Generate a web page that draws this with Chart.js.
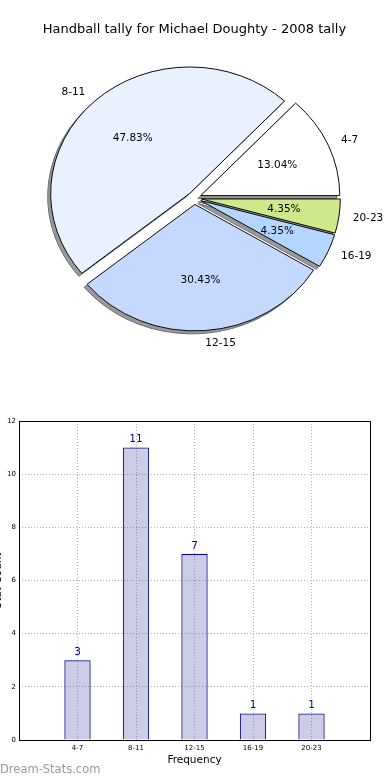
<!DOCTYPE html>
<html>
<head>
<meta charset="utf-8">
<title>Handball tally</title>
<script src="https://cdn.jsdelivr.net/npm/chart.js@4.4.0/dist/chart.umd.min.js"></script>
<style>
html, body { margin: 0; padding: 0; background: #fff; }
#page { position: relative; width: 390px; height: 780px; overflow: hidden; }
#pieBox { position: absolute; left: 0; top: 0; width: 390px; height: 400px; }
#barBox { position: absolute; left: 0; top: 400px; width: 390px; height: 380px; }
</style>
</head>
<body>
<div id="page">
    <div id="pieBox"><canvas id="pieChart"></canvas></div>
    <div id="barBox"><canvas id="barChart"></canvas></div>
</div>
<script>
/*
==================================
    Data
==================================
*/
var chartTitle = 'Handball tally for Michael Doughty - 2008 tally';
var categories = ['4-7', '8-11', '12-15', '16-19', '20-23'];
var counts = [3, 11, 7, 1, 1];
var yTicks = [0, 2, 4, 6, 8, 10, 12];
var xTitle = 'Frequency';
var yTitle = 'Stat Count';
var watermark = 'Dream-Stats.com';

var sliceColors = ['#ffffff', '#eaf1fe', '#c5d9fe', '#b4d6fe', '#cde98a'];

Chart.defaults.font.family = "'DejaVu Sans', sans-serif";
Chart.defaults.color = '#000';

var total = counts.reduce(function(a, b){ return a + b; }, 0);
var pieRadius = 139;
var squashY = 126.5 / 139;      // the pie is drawn as an ellipse
var explode = 0.05 * pieRadius;

function squash(ctx, cx, cy){
    ctx.translate(cx, cy);
    ctx.scale(1, -squashY);     // flip so slices run counter-clockwise
    ctx.translate(-cx, -cy);
}
function midAngle(arc){
    return (arc.startAngle + arc.endAngle) / 2;
}
/*
==================================
    Pie Chart
==================================
*/
var piePlugin = {
    id: 'mplPie',
    afterUpdate: function(chart){
        chart.getDatasetMeta(0).data.forEach(function(arc){
            if (arc._exploded) return;
            var draw = arc.draw;
            arc.draw = function(ctx){
                var m = midAngle(this);
                ctx.save();
                ctx.translate(Math.cos(m) * explode, Math.sin(m) * explode);
                draw.call(this, ctx);
                ctx.restore();
            };
            arc._exploded = true;
        });
    },
    beforeDatasetsDraw: function(chart){
        var ctx = chart.ctx;
        var arcs = chart.getDatasetMeta(0).data;
        // shadows
        ctx.save();
        ctx.translate(-3, 3);
        squash(ctx, arcs[0].x, arcs[0].y);
        ctx.fillStyle = '#9a9a9a';
        ctx.strokeStyle = '#6a6a6a';
        ctx.lineWidth = 1;
        arcs.forEach(function(arc){
            var m = midAngle(arc);
            var cx = arc.x + Math.cos(m) * explode;
            var cy = arc.y + Math.sin(m) * explode;
            ctx.beginPath();
            ctx.moveTo(cx, cy);
            ctx.arc(cx, cy, arc.outerRadius, arc.startAngle, arc.endAngle);
            ctx.closePath();
            ctx.fill();
            ctx.stroke();
        });
        ctx.restore();
        ctx.save();
        squash(ctx, arcs[0].x, arcs[0].y);
    },
    afterDatasetsDraw: function(chart){
        var ctx = chart.ctx;
        ctx.restore();
        var arcs = chart.getDatasetMeta(0).data;
        ctx.save();
        ctx.font = "10.5px 'DejaVu Sans'";
        ctx.fillStyle = '#000';
        ctx.textBaseline = 'middle';
        arcs.forEach(function(arc, i){
            var m = midAngle(arc);
            var c = Math.cos(m), s = Math.sin(m);
            var R = arc.outerRadius;
            ctx.textAlign = c > 0 ? 'left' : 'right';
            ctx.fillText(categories[i], arc.x + (explode + 1.1 * R) * c, arc.y - squashY * (explode + 1.1 * R) * s);
            ctx.textAlign = 'center';
            ctx.fillText((counts[i] / total * 100).toFixed(2) + '%', arc.x + (explode + 0.6 * R) * c, arc.y - squashY * (explode + 0.6 * R) * s);
        });
        ctx.restore();
    }
};

var pieChart = new Chart(document.getElementById('pieChart'), {
    type: 'pie',
    data: {
        labels: categories,
        datasets: [{
            data: counts,
            backgroundColor: sliceColors,
            borderColor: '#000',
            borderWidth: 1,
            borderAlign: 'center',
            borderJoinStyle: 'miter',
            clip: false
        }]
    },
    options: {
        responsive: true,
        maintainAspectRatio: false,
        animation: false,
        events: [],
        radius: pieRadius,
        rotation: 90,
        layout: { padding: { top: 0, left: 0, right: 1.2, bottom: 51.4 } },
        plugins: {
            legend: { display: false },
            tooltip: { enabled: false },
            title: {
                display: true,
                text: chartTitle,
                color: '#000',
                font: { size: 13, weight: 'normal' },
                padding: { top: 22, bottom: 10 }
            }
        }
    },
    plugins: [piePlugin]
});
/*
==================================
    Bar Chart
==================================
*/
var barPlugin = {
    id: 'barFrame',
    afterDatasetsDraw: function(chart){
        var ctx = chart.ctx, a = chart.chartArea;
        var meta = chart.getDatasetMeta(0);
        ctx.save();
        ctx.font = "10.5px 'DejaVu Sans'";
        ctx.fillStyle = '#0000b0';
        ctx.textAlign = 'center';
        ctx.textBaseline = 'middle';
        meta.data.forEach(function(bar, i){
            ctx.fillText(String(counts[i]), bar.x, bar.y - 8);
        });
        ctx.strokeStyle = '#000';
        ctx.lineWidth = 1;
        var l = Math.floor(a.left) + 0.5, t = Math.floor(a.top) + 0.5;
        var r = Math.floor(a.right) + 0.5, b = Math.floor(a.bottom) + 0.5;
        ctx.strokeRect(l, t, r - l, b - t);
        ctx.restore();
    },
    afterDraw: function(chart){
        var ctx = chart.ctx, a = chart.chartArea;
        ctx.save();
        ctx.font = "10.5px 'DejaVu Sans'";
        ctx.fillStyle = '#000';
        ctx.textAlign = 'center';
        ctx.textBaseline = 'middle';
        ctx.translate(-2, (a.top + a.bottom) / 2);
        ctx.rotate(-Math.PI / 2);
        ctx.fillText(yTitle, 0, 0);
        ctx.restore();
        ctx.save();
        ctx.font = "11.5px 'DejaVu Sans'";
        ctx.fillStyle = '#999';
        ctx.textAlign = 'left';
        ctx.textBaseline = 'middle';
        ctx.fillText(watermark, 0, chart.height - 10);
        ctx.restore();
    }
};

var barChart = new Chart(document.getElementById('barChart'), {
    type: 'bar',
    data: {
        datasets: [{
            data: categories.map(function(c, i){ return { x: i + 1, y: counts[i] }; }),
            backgroundColor: 'rgba(0, 0, 128, 0.2)',
            borderColor: '#000080',
            borderWidth: 1,
            categoryPercentage: 1,
            barPercentage: 0.45
        }]
    },
    options: {
        responsive: true,
        maintainAspectRatio: false,
        animation: false,
        events: [],
        layout: { padding: { top: 21, right: 20, left: 0, bottom: 0 } },
        plugins: {
            legend: { display: false },
            tooltip: { enabled: false }
        },
        scales: {
            x: {
                type: 'linear',
                min: 0,
                max: categories.length + 1,
                offset: false,
                afterBuildTicks: function(scale){
                    scale.ticks = categories.map(function(c, i){ return { value: i + 1 }; });
                },
                afterFit: function(scale){ scale.height = 40; },
                ticks: {
                    font: { size: 7 },
                    color: '#000',
                    padding: 4,
                    autoSkip: false,
                    maxRotation: 0,
                    callback: function(v){ return categories[v - 1]; }
                },
                grid: { color: '#b0b0b0', drawTicks: false, offset: false },
                border: { display: false, dash: [1, 2] },
                title: {
                    display: true,
                    text: xTitle,
                    color: '#000',
                    font: { size: 10.5 },
                    padding: { top: 0, bottom: 13.7 }
                }
            },
            y: {
                min: 0,
                max: 12,
                afterBuildTicks: function(scale){
                    scale.ticks = yTicks.map(function(v){ return { value: v }; });
                },
                afterFit: function(scale){ scale.width = 19; },
                ticks: { font: { size: 7 }, color: '#000', padding: 3 },
                grid: { color: '#b0b0b0', drawTicks: false },
                border: { display: false, dash: [1, 2] }
            }
        }
    },
    plugins: [barPlugin]
});
</script>
</body>
</html>
